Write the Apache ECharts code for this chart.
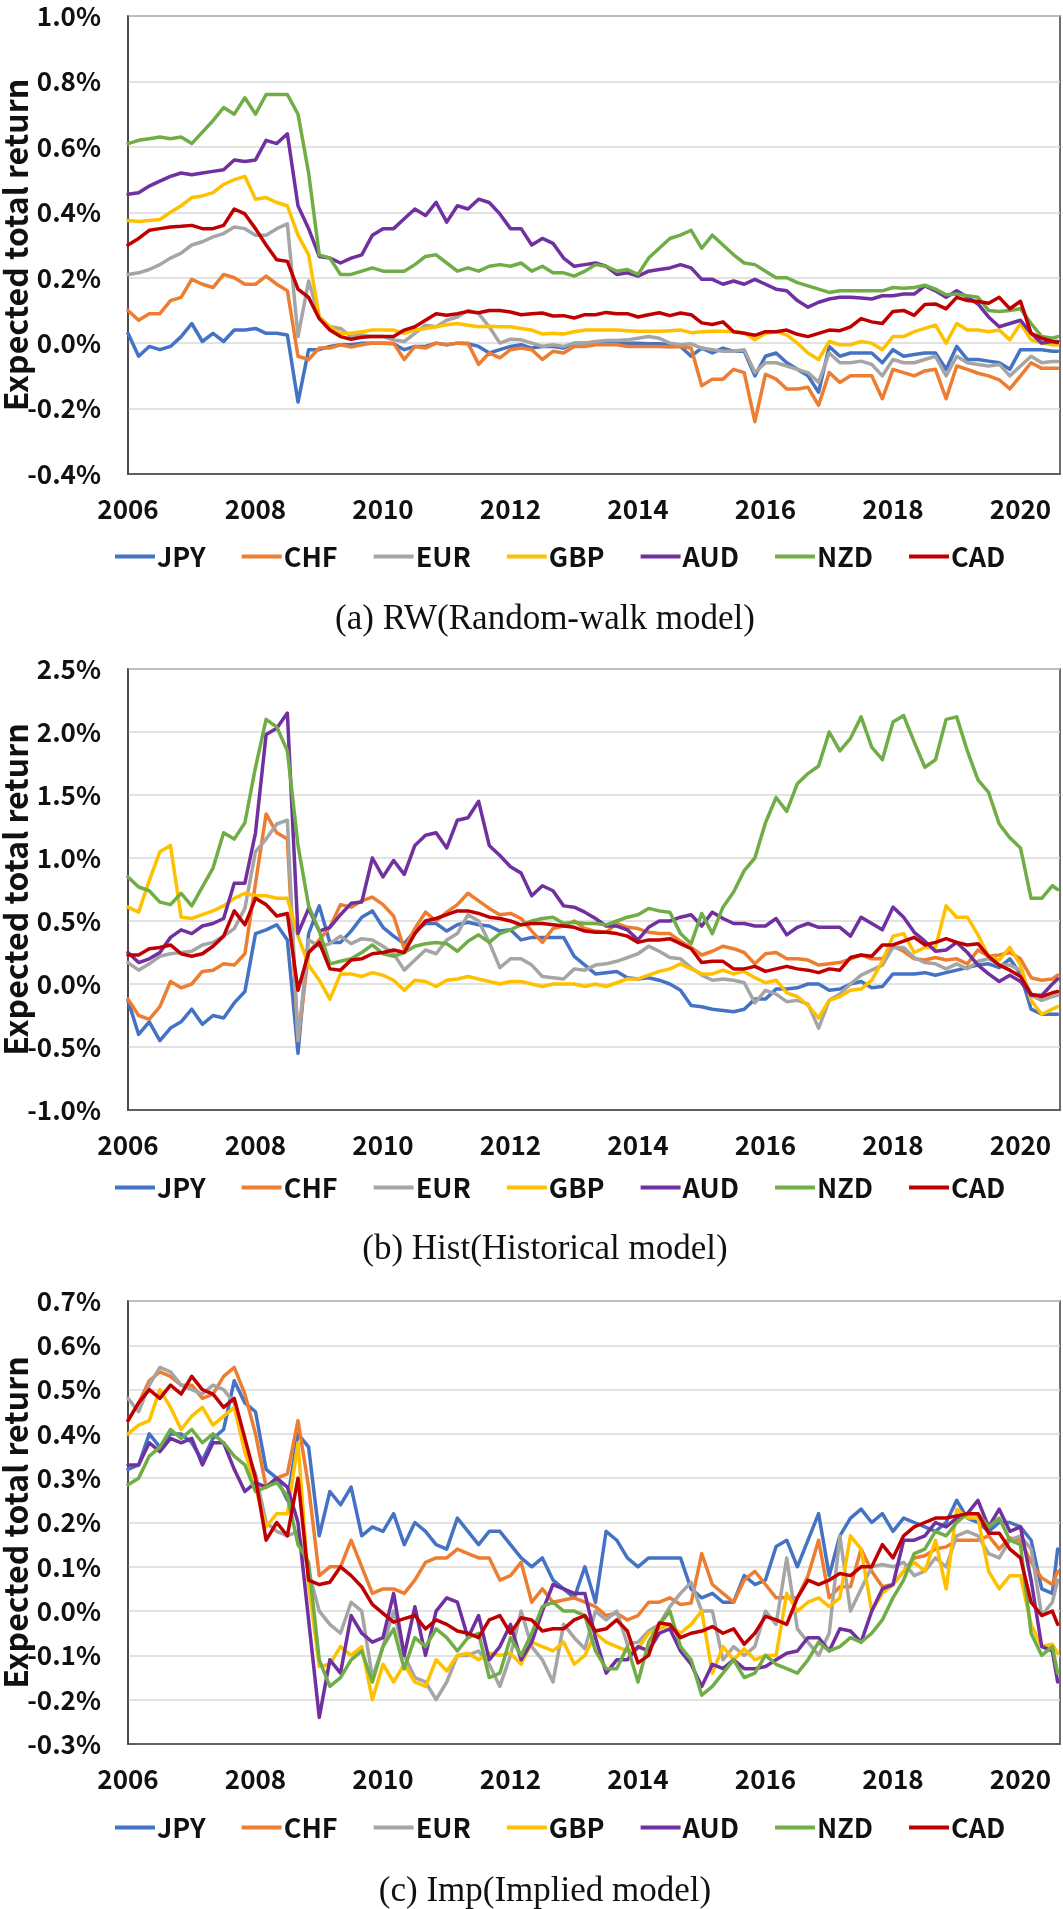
<!DOCTYPE html>
<html><head><meta charset="utf-8">
<script src="https://cdn.jsdelivr.net/npm/echarts@6/dist/echarts.min.js"></script>
<style>html,body{margin:0;padding:0;background:#fff}#c{width:1063px;height:1909px}</style>
</head><body><div id="c"></div>
<script>
const currencies = ['JPY','CHF','EUR','GBP','AUD','NZD','CAD'];
const colors = ['#4472C4','#ED7D31','#A5A5A5','#FFC000','#7030A0','#70AD47','#C00000'];
// bi-monthly observation dates, Jan 2006 .. Jul 2020, plus Aug 2020
const dates = [];
for (let k = 0; k < 88; k++) dates.push(2006 + k / 6);
dates.push(2020 + 7 / 12);
const xTickYears = [2006, 2008, 2010, 2012, 2014, 2016, 2018, 2020];
const captions = ['(a) RW(Random-walk model)', '(b) Hist(Historical model)', '(c) Imp(Implied model)'];
const yTitle = 'Expected total return';

// (a) RW, values in %
const rwJPY = [0.03,-0.04,-0.01,-0.02,-0.01,0.02, 0.06,0.005,0.03,0.005,0.04,0.04, 0.045,0.03,0.03,0.025,-0.18,-0.02, -0.02,-0.01,-0.005,-0.005,0,0, 0,-0.002,-0.02,-0.01,-0.01,0, -0.005,0,-0.002,-0.01,-0.03,-0.02, -0.01,-0.005,-0.015,-0.01,-0.01,-0.015, 0,0,0.003,0.005,0,0, 0,-0.002,-0.002,-0.005,-0.01,-0.04, -0.015,-0.03,-0.015,-0.025,-0.025,-0.1, -0.04,-0.03,-0.06,-0.08,-0.1,-0.15, -0.01,-0.04,-0.03,-0.03,-0.03,-0.06, -0.02,-0.04,-0.035,-0.03,-0.03,-0.08, -0.01,-0.05,-0.05,-0.055,-0.06,-0.08, -0.02,-0.02,-0.02,-0.025,-0.025];
const rwCHF = [0.1,0.07,0.09,0.09,0.13,0.14, 0.195,0.18,0.17,0.21,0.2,0.18, 0.18,0.205,0.18,0.16,-0.04,-0.05, -0.015,-0.015,-0.005,-0.012,-0.005,0, 0,0,-0.05,-0.01,-0.015,0, -0.005,0,0,-0.065,-0.03,-0.045, -0.02,-0.015,-0.02,-0.05,-0.025,-0.03, -0.01,-0.01,-0.005,-0.005,-0.005,-0.01, -0.01,-0.01,-0.01,-0.012,-0.01,-0.015, -0.13,-0.11,-0.11,-0.08,-0.09,-0.24, -0.095,-0.11,-0.14,-0.14,-0.135,-0.19, -0.09,-0.12,-0.1,-0.1,-0.1,-0.17, -0.08,-0.09,-0.1,-0.085,-0.08,-0.17, -0.07,-0.08,-0.092,-0.1,-0.112,-0.14, -0.1,-0.06,-0.077,-0.077,-0.077];
const rwEUR = [0.21,0.215,0.225,0.24,0.26,0.275, 0.3,0.31,0.325,0.335,0.355,0.35, 0.33,0.33,0.35,0.365,0.02,0.19, 0.08,0.05,0.045,0.02,0.025,0.02, 0.02,0.01,0.005,0.03,0.055,0.05, 0.07,0.08,0.1,0.09,0.05,0, 0.012,0.01,0,-0.01,-0.005,-0.01, 0,0,0.005,0.008,0.008,0.01, 0.015,0.02,0.015,0,-0.005,-0.002, -0.015,-0.02,-0.025,-0.025,-0.02,-0.09, -0.06,-0.06,-0.07,-0.08,-0.09,-0.12, -0.03,-0.06,-0.06,-0.055,-0.065,-0.1, -0.05,-0.06,-0.06,-0.05,-0.04,-0.1, -0.04,-0.06,-0.065,-0.07,-0.065,-0.1, -0.07,-0.04,-0.06,-0.056,-0.056];
const rwGBP = [0.375,0.372,0.375,0.378,0.4,0.42, 0.445,0.45,0.46,0.485,0.5,0.51, 0.44,0.445,0.43,0.42,0.33,0.27, 0.08,0.05,0.03,0.03,0.035,0.04, 0.04,0.04,0.03,0.04,0.045,0.05, 0.056,0.06,0.055,0.05,0.052,0.05, 0.05,0.045,0.04,0.028,0.03,0.028, 0.035,0.04,0.04,0.04,0.04,0.038, 0.036,0.036,0.036,0.038,0.04,0.032, 0.035,0.036,0.036,0.035,0.032,0.01, 0.03,0.035,0.025,0,-0.03,-0.05, 0.005,-0.005,-0.005,0.005,0,-0.02, 0.02,0.02,0.035,0.045,0.055,0, 0.06,0.04,0.04,0.035,0.04,0.01, 0.06,0.01,0,-0.005,-0.005];
const rwAUD = [0.455,0.46,0.48,0.495,0.51,0.52, 0.515,0.52,0.525,0.53,0.56,0.555, 0.56,0.62,0.61,0.64,0.42,0.35, 0.265,0.26,0.245,0.26,0.27,0.33, 0.35,0.35,0.38,0.41,0.39,0.43, 0.37,0.42,0.41,0.44,0.43,0.395, 0.35,0.35,0.3,0.32,0.305,0.26, 0.235,0.24,0.245,0.235,0.21,0.215, 0.205,0.22,0.225,0.23,0.24,0.23, 0.195,0.195,0.18,0.19,0.18,0.195, 0.18,0.165,0.16,0.13,0.11,0.125, 0.135,0.14,0.14,0.138,0.135,0.145, 0.145,0.15,0.15,0.175,0.16,0.14, 0.16,0.14,0.12,0.08,0.05,0.06, 0.07,0.03,0,0.005,0.005];
const rwNZD = [0.61,0.62,0.625,0.63,0.625,0.63, 0.61,0.645,0.68,0.72,0.7,0.75, 0.7,0.76,0.76,0.76,0.7,0.52, 0.27,0.26,0.21,0.21,0.22,0.23, 0.22,0.22,0.22,0.24,0.265,0.27, 0.245,0.22,0.23,0.22,0.235,0.24, 0.235,0.245,0.22,0.235,0.215,0.215, 0.205,0.22,0.24,0.235,0.22,0.225, 0.21,0.26,0.29,0.32,0.33,0.345, 0.29,0.33,0.3,0.27,0.245,0.24, 0.22,0.2,0.2,0.185,0.175,0.165, 0.155,0.16,0.16,0.16,0.16,0.16, 0.17,0.168,0.17,0.177,0.165,0.148, 0.15,0.145,0.14,0.1,0.097,0.1, 0.105,0.06,0.02,0.015,0.02];
const rwCAD = [0.3,0.32,0.345,0.35,0.355,0.357, 0.36,0.35,0.35,0.36,0.41,0.395, 0.35,0.3,0.255,0.25,0.165,0.14, 0.075,0.04,0.02,0.012,0.018,0.02, 0.02,0.02,0.04,0.05,0.07,0.09, 0.085,0.09,0.097,0.093,0.1,0.1, 0.095,0.087,0.09,0.092,0.083,0.084, 0.077,0.087,0.087,0.094,0.09,0.09, 0.08,0.087,0.093,0.084,0.092,0.087, 0.062,0.057,0.065,0.035,0.03,0.024, 0.035,0.035,0.04,0.027,0.02,0.03, 0.04,0.038,0.05,0.075,0.065,0.06, 0.097,0.1,0.085,0.118,0.12,0.105, 0.14,0.13,0.127,0.122,0.14,0.105, 0.128,0.03,0.015,0.005,0.002];

// (b) Hist
const hJPY = [-0.13,-0.4,-0.3,-0.45,-0.35,-0.3, -0.2,-0.32,-0.25,-0.27,-0.15,-0.06, 0.4,0.43,0.47,0.35,-0.55,0.4, 0.62,0.33,0.33,0.42,0.53,0.58, 0.45,0.38,0.32,0.42,0.48,0.48, 0.42,0.47,0.49,0.47,0.46,0.42, 0.43,0.35,0.37,0.37,0.37,0.37, 0.22,0.15,0.08,0.09,0.1,0.05, 0.04,0.05,0.03,0,-0.05,-0.17, -0.18,-0.2,-0.21,-0.22,-0.2,-0.12, -0.12,-0.04,-0.04,-0.03,0,0, -0.05,-0.04,0,0.02,-0.03,-0.02, 0.08,0.08,0.08,0.09,0.07,0.09, 0.11,0.13,0.15,0.16,0.13,0.2, 0.08,-0.2,-0.24,-0.24,-0.24];
const hCHF = [-0.12,-0.25,-0.28,-0.18,0.02,-0.03, 0,0.1,0.11,0.16,0.15,0.24, 0.8,1.35,1.2,1.15,-0.45,0.25, 0.35,0.45,0.63,0.61,0.66,0.69, 0.63,0.54,0.28,0.44,0.57,0.5, 0.57,0.63,0.72,0.66,0.6,0.55, 0.56,0.52,0.42,0.33,0.44,0.46, 0.5,0.44,0.42,0.41,0.48,0.45, 0.44,0.41,0.4,0.4,0.34,0.29, 0.23,0.26,0.3,0.28,0.25,0.16, 0.24,0.25,0.2,0.2,0.19,0.15, 0.16,0.17,0.2,0.23,0.2,0.2, 0.3,0.26,0.2,0.19,0.21,0.19, 0.2,0.16,0.27,0.22,0.23,0.25, 0.2,0.05,0.03,0.04,0.07];
const hEUR = [0.17,0.11,0.16,0.22,0.24,0.25, 0.26,0.31,0.33,0.38,0.44,0.6, 1.05,1.15,1.27,1.3,-0.45,0.35, 0.3,0.32,0.38,0.32,0.36,0.35, 0.3,0.24,0.11,0.19,0.27,0.24, 0.35,0.4,0.55,0.5,0.33,0.13, 0.2,0.2,0.15,0.06,0.05,0.04, 0.12,0.11,0.15,0.16,0.18,0.21, 0.24,0.3,0.26,0.21,0.2,0.13, 0.07,0.03,0.04,0.03,0.01,-0.15, -0.05,-0.08,-0.14,-0.13,-0.16,-0.35, -0.13,-0.08,0,0.07,0.11,0.15, 0.29,0.29,0.21,0.17,0.16,0.12, 0.16,0.12,0.18,0.2,0.15,0.15, 0.11,-0.09,-0.13,-0.1,-0.09];
const hGBP = [0.61,0.57,0.82,1.05,1.1,0.53, 0.52,0.55,0.58,0.62,0.68,0.72, 0.7,0.7,0.68,0.68,0.38,0.15, 0.03,-0.12,0.08,0.08,0.06,0.09, 0.07,0.03,-0.05,0.03,0.02,-0.02, 0.03,0.04,0.06,0.04,0.02,0, 0.02,0.02,0,-0.02,0,0, 0,-0.02,0,-0.02,0.01,0.04, 0.04,0.07,0.1,0.12,0.16,0.12, 0.08,0.08,0.11,0.08,0.1,0.05, 0.01,0.03,-0.07,-0.1,-0.17,-0.27, -0.13,-0.1,-0.05,-0.04,0.03,0.18, 0.38,0.4,0.25,0.29,0.29,0.62, 0.53,0.53,0.39,0.22,0.19,0.29, 0.15,-0.13,-0.24,-0.2,-0.18];
const hAUD = [0.25,0.17,0.2,0.25,0.37,0.43, 0.4,0.46,0.48,0.52,0.8,0.8, 1.2,1.98,2.03,2.15,0.4,0.6, 0.42,0.45,0.55,0.64,0.65,1, 0.85,0.98,0.87,1.1,1.18,1.2, 1.08,1.3,1.32,1.45,1.1,1.02, 0.93,0.88,0.7,0.78,0.74,0.62, 0.61,0.57,0.52,0.46,0.46,0.43, 0.35,0.45,0.5,0.5,0.53,0.55, 0.46,0.57,0.52,0.48,0.48,0.46, 0.46,0.52,0.39,0.45,0.48,0.45, 0.45,0.45,0.38,0.53,0.48,0.43, 0.61,0.53,0.41,0.34,0.26,0.27, 0.33,0.25,0.15,0.08,0.02,0.07, 0.02,-0.09,-0.09,0,0.04];
const hNZD = [0.85,0.77,0.74,0.65,0.63,0.72, 0.62,0.77,0.92,1.2,1.15,1.28, 1.72,2.1,2.04,1.85,1.1,0.62, 0.42,0.16,0.18,0.2,0.25,0.31, 0.24,0.22,0.25,0.3,0.32,0.33, 0.32,0.26,0.34,0.39,0.33,0.4, 0.43,0.47,0.5,0.52,0.53,0.48, 0.49,0.48,0.48,0.47,0.5,0.53, 0.55,0.6,0.58,0.57,0.4,0.32, 0.56,0.4,0.61,0.73,0.9,1, 1.28,1.48,1.37,1.59,1.67,1.73, 2,1.85,1.95,2.12,1.88,1.78, 2.08,2.13,1.92,1.72,1.78,2.1, 2.12,1.85,1.62,1.52,1.27,1.16, 1.08,0.68,0.68,0.78,0.75];
const hCAD = [0.23,0.23,0.28,0.29,0.31,0.24, 0.22,0.24,0.3,0.38,0.58,0.47, 0.68,0.63,0.54,0.56,-0.05,0.25, 0.33,0.12,0.11,0.19,0.2,0.24, 0.25,0.27,0.25,0.4,0.5,0.52, 0.55,0.58,0.58,0.56,0.53,0.52, 0.5,0.47,0.48,0.48,0.47,0.46, 0.45,0.42,0.41,0.41,0.4,0.38, 0.33,0.35,0.35,0.36,0.32,0.28, 0.17,0.18,0.18,0.12,0.12,0.14, 0.1,0.12,0.14,0.12,0.11,0.09, 0.12,0.11,0.21,0.23,0.22,0.31, 0.31,0.34,0.37,0.31,0.33,0.36, 0.33,0.31,0.32,0.22,0.15,0.11, 0.06,-0.08,-0.1,-0.07,-0.06];

// (c) Imp
const iJPY = [0.32,0.33,0.4,0.37,0.4,0.4, 0.38,0.34,0.39,0.41,0.52,0.47, 0.45,0.32,0.3,0.25,0.4,0.37, 0.17,0.27,0.24,0.28,0.17,0.19, 0.18,0.22,0.15,0.2,0.18,0.15, 0.14,0.21,0.18,0.15,0.18,0.18, 0.15,0.12,0.1,0.12,0.07,0.05, 0.03,0.1,0.02,0.18,0.16,0.12, 0.1,0.12,0.12,0.12,0.12,0.05, 0.03,0.04,0.02,0.02,0.08,0.06, 0.07,0.146,0.16,0.1,0.16,0.22, 0.08,0.17,0.21,0.23,0.2,0.22, 0.18,0.21,0.2,0.19,0.18,0.2, 0.25,0.21,0.2,0.18,0.2,0.2, 0.19,0.16,0.05,0.04,0.14];
const iCHF = [0.43,0.47,0.52,0.54,0.53,0.51, 0.51,0.48,0.49,0.53,0.55,0.49, 0.4,0.28,0.3,0.31,0.43,0.28, 0.08,0.1,0.1,0.16,0.1,0.04, 0.05,0.05,0.04,0.07,0.11,0.12, 0.12,0.14,0.13,0.12,0.12,0.07, 0.08,0.11,0.02,0.05,0.02,0.025, 0.03,0.02,0.01,-0.01,-0.005,-0.02, -0.01,0.02,0.02,0.03,0.015,0.018, 0.13,0.06,0.04,0.02,0.07,0.09, 0.06,0.03,0.03,0.03,0.08,0.16, 0.03,0.055,0.055,0.14,0.09,0.055, 0.06,0.09,0.12,0.125,0.14,0.145, 0.16,0.16,0.16,0.17,0.14,0.165, 0.16,0.11,0.075,0.06,0.09];
const iEUR = [0.48,0.45,0.51,0.55,0.54,0.51, 0.5,0.49,0.51,0.5,0.47,0.36, 0.31,0.2,0.18,0.17,0.18,0.09, 0,-0.03,-0.05,0.02,0,-0.15, -0.08,0,-0.1,-0.15,-0.16,-0.2, -0.16,-0.1,-0.1,-0.09,-0.12,-0.17, -0.1,0,-0.08,-0.11,-0.16,-0.03, -0.06,-0.085,0,-0.02,0,-0.075, -0.07,-0.045,-0.03,0.01,0.04,0.065, 0,0,-0.11,-0.08,-0.1,-0.08, 0,-0.03,0.12,-0.04,-0.07,-0.1, -0.05,0.17,0,0.05,0.1,0.105, 0.1,0.11,0.08,0.09,0.12,0.1, 0.17,0.18,0.17,0.13,0.12,0.16, 0.17,0.14,-0.01,0.02,0.07];
const iGBP = [0.4,0.42,0.43,0.5,0.46,0.41, 0.44,0.46,0.42,0.44,0.46,0.36, 0.28,0.19,0.22,0.22,0.38,0.06, -0.125,-0.12,-0.08,-0.1,-0.08,-0.2, -0.12,-0.16,-0.12,-0.16,-0.17,-0.11, -0.135,-0.1,-0.095,-0.11,-0.095,-0.1, -0.095,-0.12,-0.07,-0.08,-0.09,-0.07, -0.12,-0.1,-0.05,-0.07,-0.08,-0.09, -0.085,-0.05,-0.04,-0.03,-0.05,-0.03, 0,-0.14,-0.08,-0.11,-0.085,-0.11, -0.1,-0.1,0.04,0,0.02,0.03, 0.01,0.03,0.17,0.14,0,0.04, 0.06,0.09,0.11,0.09,0.16,0.05, 0.23,0.21,0.21,0.09,0.05,0.08, 0.08,-0.03,-0.08,-0.075,-0.095];
const iAUD = [0.33,0.33,0.38,0.36,0.39,0.38, 0.39,0.33,0.38,0.38,0.32,0.27, 0.29,0.28,0.3,0.28,0.2,-0.02, -0.24,-0.11,-0.14,-0.01,-0.05,-0.07, -0.06,0.04,-0.1,0.01,-0.1,0, 0.03,0.02,-0.06,-0.01,-0.11,-0.08, -0.03,-0.11,-0.07,0,0.06,0.05, 0.04,0.04,-0.06,-0.14,-0.11,-0.11, -0.08,-0.09,-0.05,-0.04,-0.09,-0.12, -0.17,-0.12,-0.13,-0.11,-0.13,-0.13, -0.125,-0.11,-0.095,-0.09,-0.06,-0.06, -0.09,-0.04,-0.045,-0.07,0,0.05, 0.06,0.16,0.16,0.17,0.2,0.19, 0.21,0.22,0.25,0.19,0.23,0.18, 0.19,0.07,-0.08,-0.09,-0.16];
const iNZD = [0.285,0.3,0.35,0.37,0.41,0.39, 0.41,0.38,0.4,0.38,0.35,0.33, 0.27,0.28,0.29,0.26,0.15,0.11, -0.11,-0.17,-0.15,-0.11,-0.09,-0.16, -0.08,-0.04,-0.13,-0.06,-0.08,-0.04, -0.06,-0.09,-0.06,-0.05,-0.15,-0.14, -0.06,-0.1,-0.05,0.01,0.02,0, 0,-0.01,-0.09,-0.13,-0.13,-0.08, -0.16,-0.07,-0.03,0,-0.08,-0.11, -0.19,-0.17,-0.14,-0.11,-0.15,-0.14, -0.1,-0.12,-0.13,-0.14,-0.11,-0.07, -0.09,-0.08,-0.06,-0.07,-0.05,-0.02, 0.03,0.07,0.13,0.14,0.18,0.17, 0.2,0.22,0.22,0.19,0.21,0.16, 0.15,-0.05,-0.1,-0.08,-0.14];
const iCAD = [0.43,0.47,0.5,0.48,0.51,0.49, 0.53,0.5,0.49,0.46,0.48,0.39, 0.3,0.16,0.2,0.17,0.3,0.07, 0.06,0.065,0.1,0.08,0.055,0.015, -0.005,-0.025,-0.017,-0.01,-0.04,-0.02, -0.03,-0.045,-0.05,-0.06,-0.02,-0.01, -0.05,-0.015,-0.02,-0.045,-0.04,-0.04, -0.02,-0.01,-0.045,-0.04,-0.02,-0.045, -0.117,-0.1,-0.027,-0.03,-0.06,-0.05, -0.045,-0.035,-0.05,-0.04,-0.075,-0.05, -0.012,-0.02,-0.03,0.03,0.07,0.06, 0.07,0.085,0.08,0.1,0.1,0.15, 0.12,0.17,0.19,0.2,0.21,0.21, 0.215,0.22,0.22,0.176,0.176,0.14, 0.12,0.02,-0.01,0,-0.03];

const panelSeries = [
  [rwJPY, rwCHF, rwEUR, rwGBP, rwAUD, rwNZD, rwCAD],
  [hJPY, hCHF, hEUR, hGBP, hAUD, hNZD, hCAD],
  [iJPY, iCHF, iEUR, iGBP, iAUD, iNZD, iCAD]
];
const yRanges = [[-0.4, 1.0, 0.2], [-1.0, 2.5, 0.5], [-0.3, 0.7, 0.1]];

// layout
const FONT = '"Noto Sans CJK JP", "Noto Sans", sans-serif';
const layout = [
  {top: 16, height: 458, legendTop: 538, captionY: 620},
  {top: 669, height: 441, legendTop: 1169, captionY: 1250},
  {top: 1301, height: 443, legendTop: 1809, captionY: 1892}
];
const gridLeft = 128, gridWidth = 932;

const grids = [], xAxes = [], yAxes = [], legends = [], series = [], graphics = [];
layout.forEach((L, p) => {
  grids.push({left: gridLeft, top: L.top, width: gridWidth, height: L.height, show: true,
    borderColor: '#404040', borderWidth: 1.5, backgroundColor: '#fff', containLabel: false, outerBoundsMode: 'none'});
  xAxes.push({type: 'value', gridIndex: p, min: 2006, max: 2020.62, interval: 2,
    axisLine: {show: true, onZero: false, lineStyle: {color: '#404040', width: 1.5}},
    axisTick: {show: false}, splitLine: {show: false},
    axisLabel: {margin: 22, fontSize: 26, fontWeight: 'bold', fontFamily: FONT, color: '#111', showMaxLabel: false,
      formatter: v => { const r = Math.round(v); return (Math.abs(v - r) < 1e-6 && xTickYears.indexOf(r) >= 0) ? String(r) : ''; }}});
  const [mn, mx, iv] = yRanges[p];
  yAxes.push({type: 'value', gridIndex: p, min: mn, max: mx, interval: iv,
    axisLine: {show: true, onZero: false, lineStyle: {color: '#404040', width: 1.5}},
    axisTick: {show: false},
    splitLine: {show: true, lineStyle: {color: '#d9d9d9', width: 1.5}},
    axisLabel: {margin: 27, fontSize: 26, fontWeight: 'bold', fontFamily: FONT, color: '#111',
      formatter: v => (Math.abs(v) < 1e-9 ? 0 : v).toFixed(1) + '%'}});
  legends.push({top: L.legendTop, left: 110, orient: 'horizontal', data: currencies, icon: 'rect',
    itemWidth: 40, itemHeight: 4, itemGap: 36, selectedMode: false,
    textStyle: {fontSize: 27, fontWeight: 'bold', fontFamily: FONT, color: '#111', padding: [0, 0, 0, -3]}});
  panelSeries[p].forEach((arr, ci) => {
    series.push({type: 'line', name: currencies[ci], xAxisIndex: p, yAxisIndex: p,
      data: dates.map((d, i) => [d, arr[i]]), showSymbol: false, symbol: 'none',
      lineStyle: {width: 3.5, color: colors[ci], cap: 'round', join: 'round'},
      itemStyle: {color: colors[ci]}, emphasis: {disabled: true}, animation: false});
  });
  graphics.push({type: 'text', x: 16, y: L.top + L.height / 2, rotation: Math.PI / 2,
    style: {text: yTitle, font: 'bold 32px ' + FONT, fill: '#111', align: 'center', verticalAlign: 'middle'}});
  graphics.push({type: 'text', x: 545, y: L.captionY,
    style: {text: captions[p], font: '35px "Liberation Serif", serif', fill: '#111', align: 'center', verticalAlign: 'middle'}});
});

const chart = echarts.init(document.getElementById('c'), null, {renderer: 'canvas'});
chart.setOption({
  animation: false,
  backgroundColor: '#fff',
  grid: grids, xAxis: xAxes, yAxis: yAxes, legend: legends, series: series, graphic: graphics,
  tooltip: {show: false}
});
</script></body></html>
